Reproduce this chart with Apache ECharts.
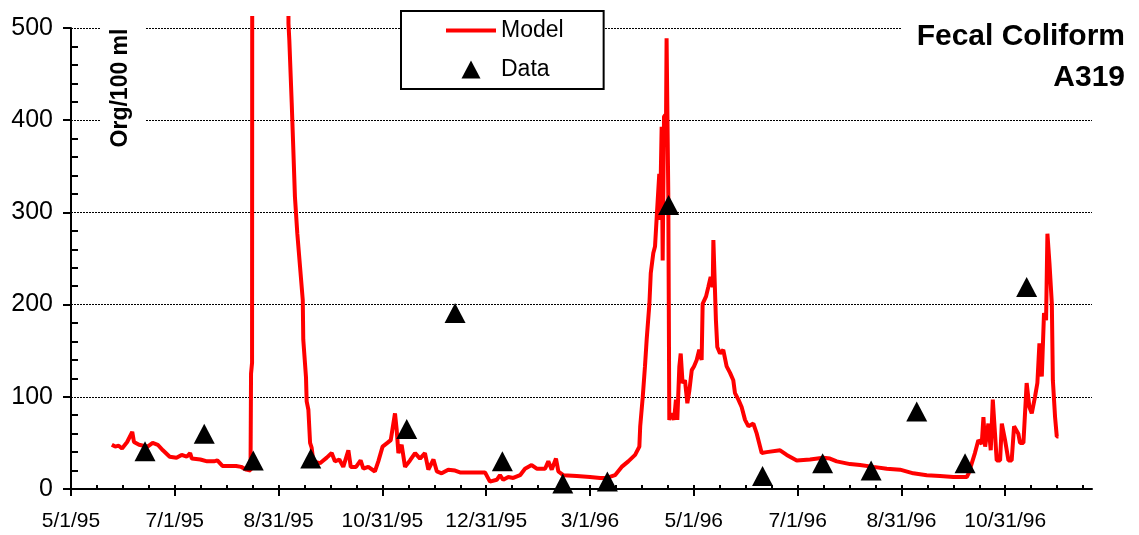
<!DOCTYPE html>
<html>
<head>
<meta charset="utf-8">
<script src="https://cdn.jsdelivr.net/npm/echarts@6/dist/echarts.min.js"></script>
<style>
html, body { margin: 0; padding: 0; background: #fff; }
#main { width: 1139px; height: 535px; }
</style>
</head>
<body>
<div id="main"></div>
<script>
// x axis is days since 5/1/95, one labelled tick every 61 days
var xTickLabels = ['5/1/95', '7/1/95', '8/31/95', '10/31/95', '12/31/95', '3/1/96', '5/1/96', '7/1/96', '8/31/96', '10/31/96'];
var yTicks = [0, 100, 200, 300, 400, 500];

// Model (days since 5/1/95)
var modelDays = [24, 26, 28, 30, 33, 36, 37, 40, 45, 48, 51, 54, 58, 62, 65, 68, 70, 71, 76, 80, 84, 86, 89, 93, 97, 100, 103, 105.5,
    105.8, 106.4, 106.6, 127.5, 127.8, 128.3, 129.7, 130.6, 131.6, 133, 134.6, 136.2, 136.5, 138.1, 138.5, 139.5, 140.5, 141.4, 142.4,
    146.3, 150.3, 153.2, 155.1, 157.7, 160, 163, 164.4, 167.5, 170.2, 171.8, 174.7, 178.6, 180.6, 183.1, 185.9, 187.9, 190.4, 191.4,
    192.4, 194.3, 196.3, 199.2, 202.2, 205.1, 208, 210, 213, 215, 217.8, 221.7, 225.7, 228.6, 236.4, 243.3, 246.2, 250.2, 252.1, 254,
    257, 259.9, 263.9, 266.8, 270.7, 273.7, 278.6, 280.5, 282.5, 285, 286.4, 289.3, 297.2, 305, 310.9, 314.8, 319.7, 323.6, 327.5,
    331.5, 334, 334.5, 336, 337.3, 338.3, 339.9, 340.7, 342.2, 343.2, 344.2, 345.7, 346.1, 347.1, 347.7, 348.5, 349.7, 350, 351,
    351.6, 353, 354.4, 355.5, 356.3, 357.5, 358.3, 359.4, 360.8, 362.2, 363.4, 364.8, 366.1, 367.7, 369.2, 370.6, 371.2, 373.2,
    374.5, 375.9, 377.1, 377.5, 378.6, 379, 379.8, 381.4, 383.3, 385.3, 387.3, 389.2, 390.2, 392.2, 394.1, 396.1, 398.1, 401, 403,
    405.9, 408.8, 416.7, 420.6, 426.5, 434.3, 442.1, 446, 450, 457.8, 463.7, 471.5, 479.4, 487.2, 495, 502.9, 510.7, 518.5, 526.4,
    527.5, 531.2, 533.2, 535.2, 536.2, 537.2, 539.1, 540.5, 541.7, 543, 544, 546, 547, 548.9, 550.9, 552.8, 554.2, 556.7, 557.7,
    559.7, 561.6, 563.2, 564.6, 566.5, 567.9, 569.1, 570.5, 571.8, 573, 573.8, 575, 576.4, 577, 578.3, 579.3, 580.3];
var modelValues = [48, 46, 47, 44, 51, 62, 51, 48, 46, 50, 48, 42, 35, 34, 37, 35, 39, 33, 32, 30, 30, 31, 25, 25, 25, 24, 21, 20,
    125, 137, 1000, 1000, 505, 487, 419, 371, 317, 277, 241, 205, 162, 121, 95, 86, 50, 45, 30,
    28, 34, 39, 30, 32, 24, 42, 24, 24, 31, 22, 24, 19, 30, 46, 50, 53, 82, 64,
    39, 48, 24, 31, 39, 33, 39, 21, 32, 19, 17, 21, 20, 18, 18, 18, 8, 10, 15, 10,
    13, 12, 15, 22, 26, 22, 22, 30, 21, 33, 19, 15, 14, 13, 12, 12, 15, 24, 30,
    37, 46, 68, 100, 133, 162, 201, 234, 256, 263, 295, 342, 292, 393, 248, 404, 407, 489, 321,
    75, 82, 75, 97, 75, 133, 147, 115, 118, 93, 107, 129, 133, 140, 151, 140, 201, 209,
    219, 230, 219, 270, 270, 183, 154, 147, 151, 133, 126, 118, 104, 97, 89, 75, 68, 71, 60,
    39, 40, 42, 37, 31, 32, 34, 33, 30, 27, 26, 24, 22, 21, 17, 15, 14, 13, 13,
    17, 39, 53, 49, 78, 46, 71, 42, 97, 60, 31, 31, 71, 53, 31, 31, 68, 60, 50,
    50, 115, 89, 82, 100, 115, 158, 122, 191, 183, 277, 245, 201, 118, 78, 57, 57];

// Data (measured samples)
var dataDays = [43.5, 78.3, 107.1, 140.9, 197.3, 225.7, 253.5, 289, 315.2, 351.2, 406.4, 441.7, 470.2, 497, 525.4, 561.6];
var dataValues = [41, 60, 31, 33, 65, 191, 30, 6, 8, 308, 14, 28, 20, 84, 28, 219];

var majorTicks = [];
for (var i = 0; i < xTickLabels.length; i++) majorTicks.push(i * 61);
var minorTicks = [];
for (var j = 1; j < 40; j++) { if (j % 4 !== 0) minorTicks.push(j * 15.25); }

var modelData = modelDays.map(function (d, k) { return [d, modelValues[k]]; });
var dataPts = dataDays.map(function (d, k) { return [d, dataValues[k]]; });

var font = 'Liberation Sans, Arial, sans-serif';
var chart = echarts.init(document.getElementById('main'), null, { renderer: 'canvas' });

option = {
    animation: false,
    backgroundColor: '#fff',
    textStyle: { fontFamily: font, color: '#000' },
    grid: [
        { left: 71, right: 47, top: 28, bottom: 46 },
        { left: 71, right: 47, top: 18, bottom: 46 }
    ],
    legend: {
        data: [
            // icons drawn in a 50x18 box: red bar / centred triangle
            { name: 'Model', icon: 'path://M0,0M50,18M0,7L50,7L50,11L0,11Z' },
            { name: 'Data', icon: 'path://M0,0M50,18M15.5,18L25,0L34.5,18Z' }
        ],
        orient: 'vertical',
        left: 401,
        top: 11,
        backgroundColor: '#fff',
        borderColor: '#000',
        borderWidth: 2,
        borderRadius: 0,
        padding: [8, 40, 8, 45],
        itemGap: 16,
        itemWidth: 50,
        itemHeight: 18,
        textStyle: { fontSize: 23, color: '#000', fontFamily: font },
        z: 6
    },
    xAxis: [
        {
            type: 'value', gridIndex: 0, min: 0, max: 600, interval: 61,
            axisLine: { lineStyle: { color: '#000', width: 2 } },
            axisTick: { show: true, customValues: majorTicks, length: 7, lineStyle: { color: '#000', width: 2 } },
            axisLabel: {
                customValues: majorTicks, margin: 22, fontSize: 21, color: '#000', fontFamily: font,
                formatter: function (v) { var n = Math.round(v / 61); return xTickLabels[n] || ''; }
            },
            splitLine: { show: false }
        },
        {
            type: 'value', gridIndex: 1, min: 0, max: 600, interval: 61,
            axisLine: { show: false },
            axisTick: { show: true, inside: true, customValues: minorTicks.concat(majorTicks), length: 4, lineStyle: { color: '#000', width: 2 } },
            axisLabel: { show: false },
            splitLine: { show: false }
        }
    ],
    yAxis: [
        {
            type: 'value', gridIndex: 0, position: 'left', min: yTicks[0], max: yTicks[yTicks.length - 1], interval: 100,
            axisLine: { show: true, lineStyle: { color: '#000', width: 2 } },
            axisTick: { show: true, length: 8, lineStyle: { color: '#000', width: 2 } },
            axisLabel: { margin: 18, fontSize: 25, color: '#000', fontFamily: font },
            splitLine: { show: true, lineStyle: { color: '#000', type: [2, 1], width: 1 } }
        },
        { type: 'value', gridIndex: 1, min: 0, max: 511, show: false },
        {
            // inside minor ticks only
            type: 'value', gridIndex: 0, position: 'left', offset: 0,
            min: yTicks[0], max: yTicks[yTicks.length - 1], interval: 100,
            axisLine: { show: false },
            axisTick: { show: false, inside: true },
            minorTick: { show: true, splitNumber: 5, length: 7, lineStyle: { color: '#000', width: 2 } },
            axisLabel: { show: false },
            splitLine: { show: false }
        }
    ],
    graphic: [
        { type: 'rect', z: 1, shape: { x: 100, y: 20, width: 45, height: 135 }, style: { fill: '#fff' } },
        { type: 'rect', z: 1, shape: { x: 902, y: 20, width: 237, height: 16 }, style: { fill: '#fff' } },
        {
            type: 'text', z: 5, x: 121, y: 88, rotation: Math.PI / 2,
            style: { text: 'Org/100 ml', fill: '#000', font: 'bold 23px ' + font, align: 'center', verticalAlign: 'middle' }
        },
        {
            type: 'text', z: 5, x: 1125, y: 37,
            style: { text: 'Fecal Coliform', fill: '#000', font: 'bold 30px ' + font, align: 'right', verticalAlign: 'middle' }
        },
        {
            type: 'text', z: 5, x: 1125, y: 78,
            style: { text: 'A319', fill: '#000', font: 'bold 30px ' + font, align: 'right', verticalAlign: 'middle' }
        }
    ],
    series: [
        {
            name: 'Model',
            type: 'line',
            xAxisIndex: 1,
            yAxisIndex: 1,
            data: modelData,
            symbol: 'none',
            clip: true,
            color: '#ff0000',
            lineStyle: { color: '#ff0000', width: 4 },
            z: 2
        },
        {
            name: 'Data',
            type: 'scatter',
            xAxisIndex: 0,
            yAxisIndex: 0,
            data: dataPts,
            symbol: 'triangle',
            symbolSize: [21, 20],
            color: '#000',
            itemStyle: { color: '#000', opacity: 1 },
            z: 3
        }
    ]
};
chart.setOption(option);
</script>
</body>
</html>
